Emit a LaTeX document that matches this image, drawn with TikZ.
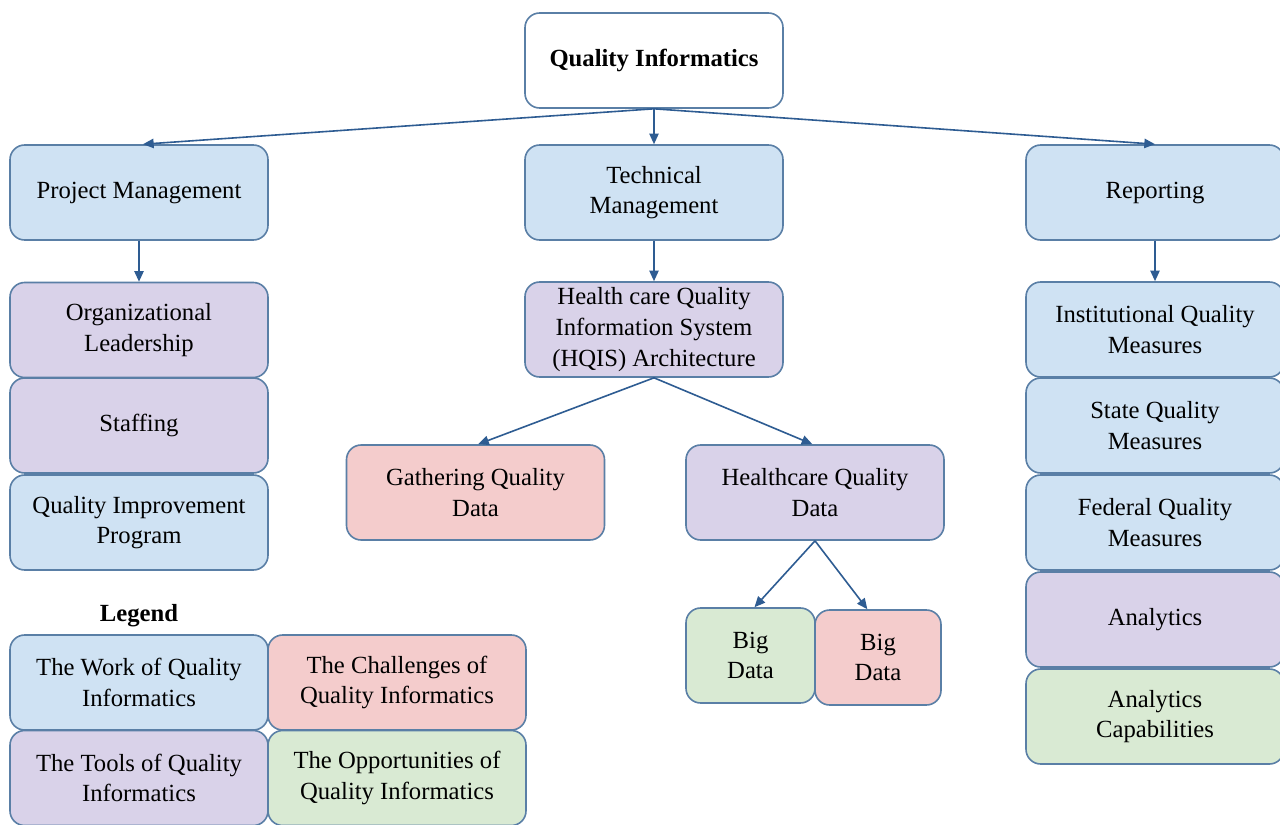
\documentclass[tikz,border=0pt]{standalone}
\usepackage{fontspec}
\setmainfont{Liberation Serif}
\usetikzlibrary{arrows.meta}
\definecolor{blueF}{HTML}{CFE2F3}
\definecolor{purpF}{HTML}{D9D2E9}
\definecolor{redF}{HTML}{F4CCCC}
\definecolor{greenF}{HTML}{D9EAD3}
\definecolor{edgeC}{HTML}{5A7FA6}
\definecolor{arrC}{HTML}{2E5C92}
\tikzset{
  box/.style={draw=edgeC, line width=1.2pt, rounded corners=11pt, align=center,
    minimum width=193.5pt, minimum height=71.25pt, inner sep=2pt,
    font=\fontsize{18.5}{23}\selectfont, text=black},
  conn/.style={draw=arrC, line width=1.2pt, -{Triangle[length=8pt,width=7pt]}},
}
\begin{document}
\begin{tikzpicture}[x=0.75pt,y=-0.75pt]
\useasboundingbox (0,0) rectangle (1280,824);
\fill[white] (0,0) rectangle (1280,824);
\node[box, fill=white, font=\bfseries\fontsize{18.5}{23}\selectfont] (qi) at (654,60.5) {Quality Informatics};
\node[box, fill=blueF] (pm) at (139,192.5) {Project Management};
\node[box, fill=blueF] (tm) at (654,192.5) {Technical\\Management};
\node[box, fill=blueF] (rep) at (1155,192.5) {Reporting};
\node[box, fill=purpF] (ol) at (139,330) {Organizational\\Leadership};
\node[box, fill=purpF] (st) at (139,425.5) {Staffing};
\node[box, fill=blueF] (qip) at (139,522.5) {Quality Improvement\\Program};
\node[box, fill=purpF] (hqis) at (654,329.5) {Health care Quality\\Information System\\(HQIS) Architecture};
\node[box, fill=redF] (gqd) at (475.5,492.5) {Gathering Quality\\Data};
\node[box, fill=purpF] (hqd) at (815,492.5) {Healthcare Quality\\Data};
\node[box, fill=greenF, minimum width=96.75pt] (bd1) at (750.5,655.5) {Big\\Data};
\node[box, fill=redF, minimum width=94.5pt] (bd2) at (878,657.5) {Big\\Data};
\node[box, fill=blueF] (iqm) at (1155,329.5) {Institutional Quality\\Measures};
\node[box, fill=blueF] (sqm) at (1155,425.5) {State Quality\\Measures};
\node[box, fill=blueF] (fqm) at (1155,522.5) {Federal Quality\\Measures};
\node[box, fill=purpF] (an) at (1155,619.5) {Analytics};
\node[box, fill=greenF] (ac) at (1155,716.5) {Analytics\\Capabilities};
\node[font=\bfseries\fontsize{18.5}{23}\selectfont] (leg) at (139,616) {Legend};
\node[box, fill=blueF] (lw) at (139,682.5) {The Work of Quality\\Informatics};
\node[box, fill=redF] (lc) at (397,682.5) {The Challenges of\\Quality Informatics};
\node[box, fill=purpF] (lt) at (139,778) {The Tools of Quality\\Informatics};
\node[box, fill=greenF] (lo) at (397,778) {The Opportunities of\\Quality Informatics};
\draw[conn] (qi.south) -- ([xshift=3pt]pm.north);
\draw[conn] (qi.south) -- (tm.north);
\draw[conn] (qi.south) -- (rep.north);
\draw[conn] (pm.south) -- (ol.north);
\draw[conn] (tm.south) -- (hqis.north);
\draw[conn] (rep.south) -- (iqm.north);
\draw[conn] (hqis.south) -- ([xshift=2pt]gqd.north);
\draw[conn] (hqis.south) -- ([xshift=-2pt]hqd.north);
\draw[conn] (hqd.south) -- ([xshift=3pt]bd1.north);
\draw[conn] (hqd.south) -- ([xshift=-8pt]bd2.north);
\end{tikzpicture}
\end{document}
